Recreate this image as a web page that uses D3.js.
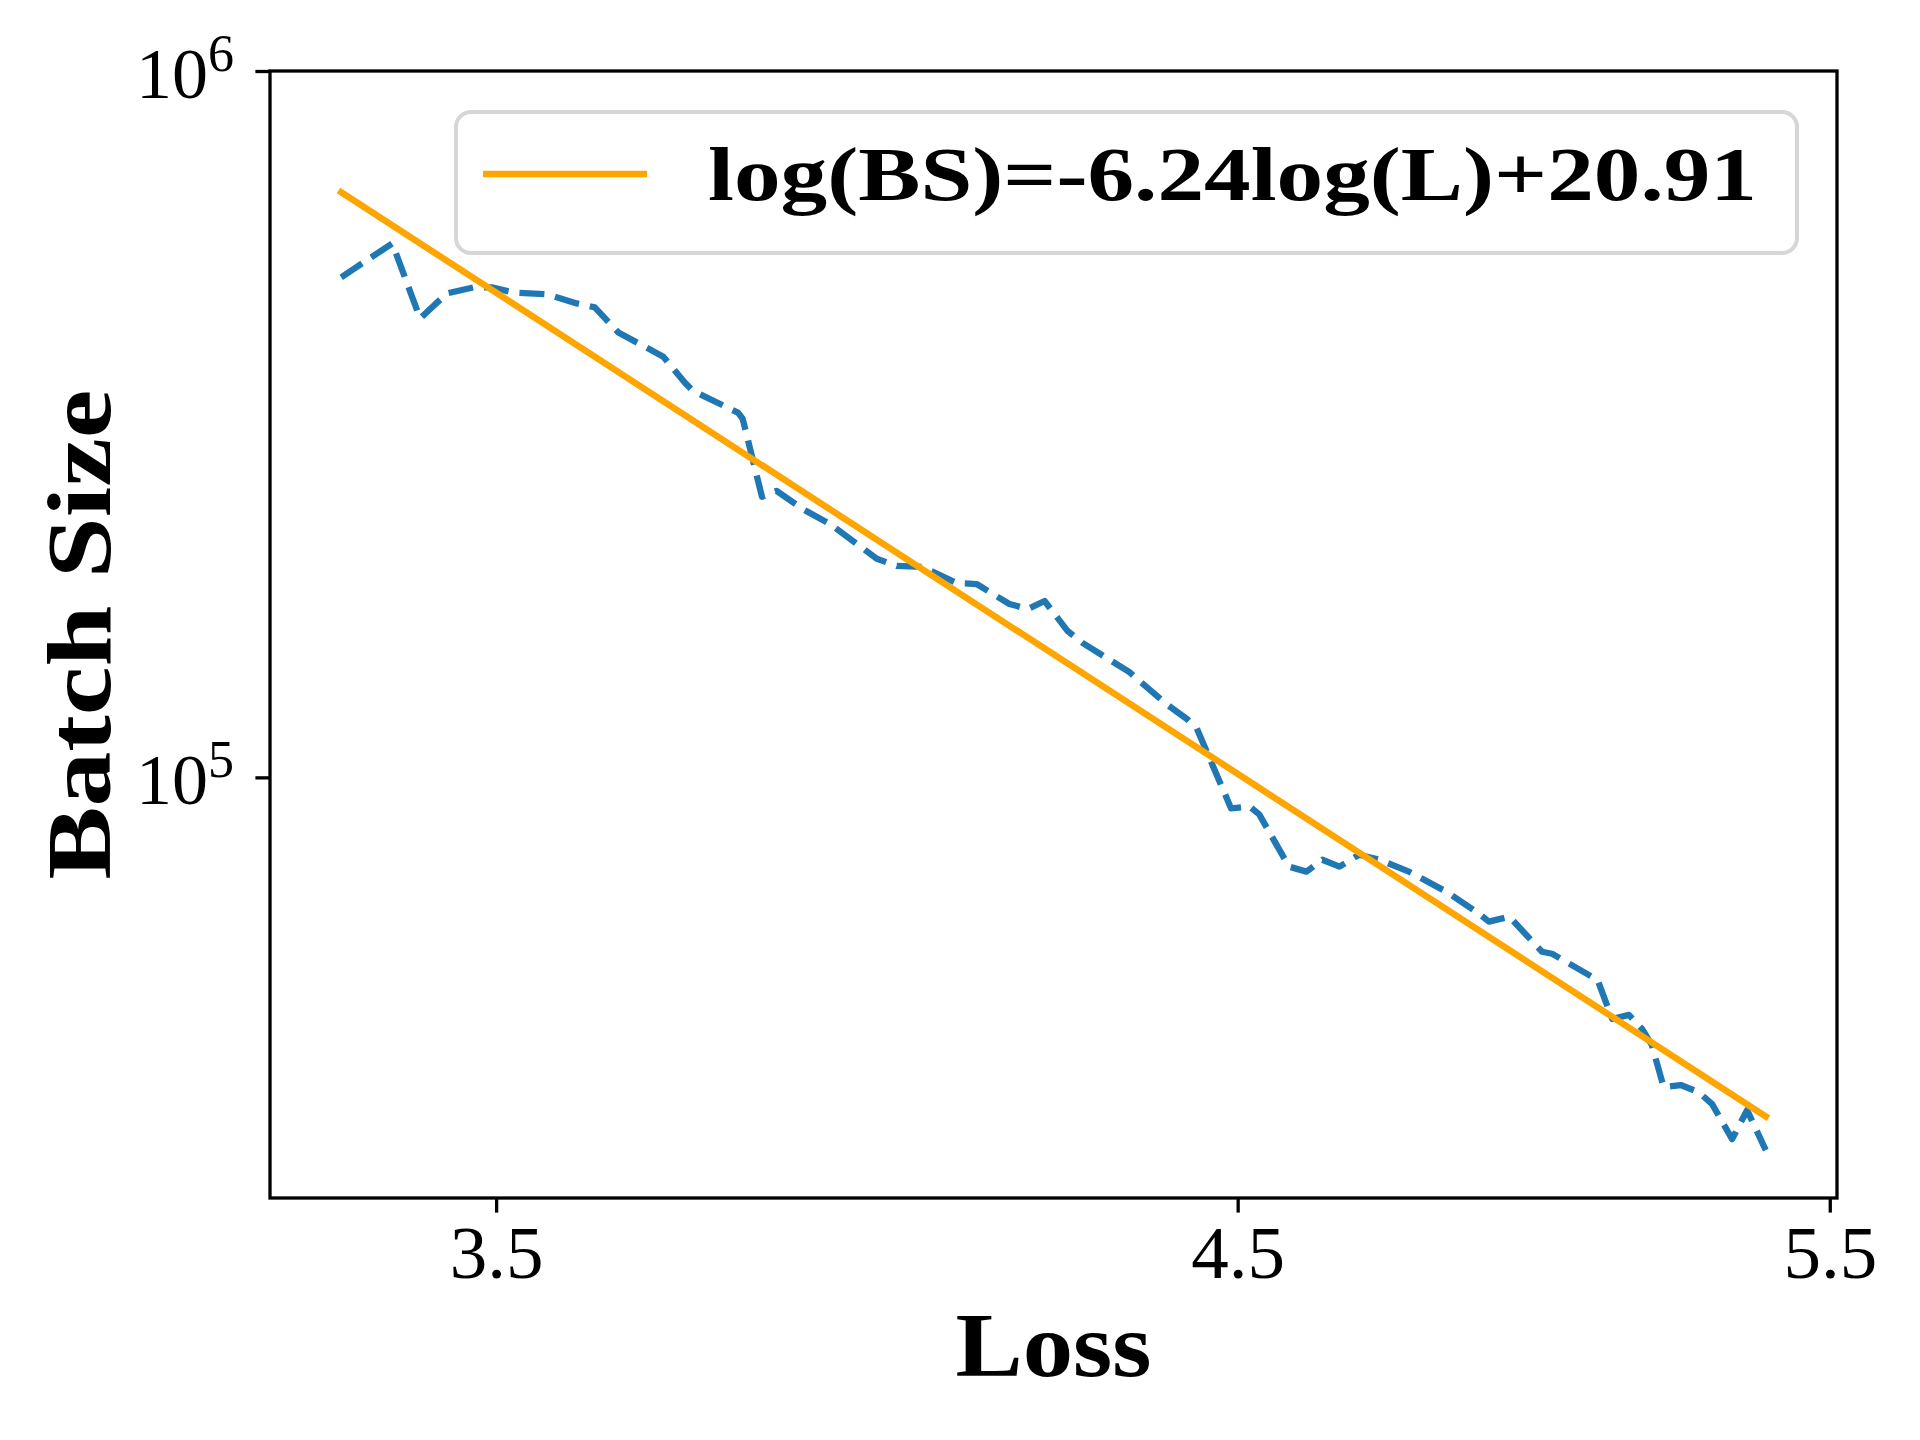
<!DOCTYPE html>
<html>
<head>
<meta charset="utf-8">
<script src="https://cdn.jsdelivr.net/npm/d3@7"></script>
<style>
  body { margin: 0; background: #fff; }
  svg { display: block; }
  text { font-family: "Liberation Serif", "DejaVu Serif", serif; fill: #000; }
</style>
</head>
<body>
<div id="chart"></div>
<script>
var lossValues = [
  3.321, 3.379, 3.411, 3.442, 3.473, 3.495, 3.520, 3.561, 3.597, 3.619,
  3.648, 3.704, 3.731, 3.741, 3.799, 3.805, 3.830, 3.849, 3.883, 3.919,
  3.982, 4.009, 4.044, 4.091, 4.119, 4.165, 4.191, 4.215, 4.248, 4.270,
  4.338, 4.348, 4.393, 4.424, 4.438, 4.490, 4.518, 4.533, 4.579, 4.606,
  4.631, 4.658, 4.689, 4.721, 4.769, 4.829, 4.879, 4.900, 4.934, 4.989,
  5.006, 5.074, 5.083, 5.109, 5.138, 5.161, 5.178, 5.199, 5.229, 5.261,
  5.285, 5.321, 5.348, 5.382
];
var batchSizes = [
  510400, 570200, 446300, 484300, 493900, 493900, 485900, 482800, 468800, 462700,
  426400, 394100, 362200, 352800, 328300, 321900, 249600, 254500, 239900, 228500,
  203900, 199200, 198600, 188400, 187800, 176000, 173100, 177700, 161100, 154900,
  140900, 138200, 126900, 120800, 117400, 90380, 90960, 88630, 74750, 73540,
  76460, 74750, 77720, 76460, 73540, 68940, 64550, 62480, 63510, 56640,
  56270, 52210, 51880, 45500, 46100, 44060, 41810, 36440, 36680, 35850,
  34470, 30750, 33800, 29670
];

// fitted power law, natural logs
var fitSlope = -6.24;
var fitIntercept = 20.91;
var legendLabel = "log(BS)=-6.24log(L)+20.91";

var xTickValues = [3.5, 4.5, 5.5];
var xTickLabels = ["3.5", "4.5", "5.5"];
var yTickValues = [1e5, 1e6];
var yTickExponents = ["5", "6"];

var width = 1920, height = 1440;
var margin = {top: 71, right: 83, bottom: 242, left: 270};
var innerW = width - margin.left - margin.right;
var innerH = height - margin.top - margin.bottom;

var lossMin = d3.min(lossValues), lossMax = d3.max(lossValues);
var fitData = [lossMin, lossMax].map(function (l) {
  return [l, Math.exp(fitIntercept + fitSlope * Math.log(l))];
});

// matplotlib-like 5% margins in log space
var lx0 = Math.log(lossMin), lx1 = Math.log(lossMax);
var xpad = 0.05 * (lx1 - lx0);
var yLo = Math.log10(Math.min(d3.min(batchSizes), fitData[1][1]));
var yHi = Math.log10(Math.max(d3.max(batchSizes), fitData[0][1]));
var ypad = 0.05 * (yHi - yLo);

var x = d3.scaleLog()
    .domain([Math.exp(lx0 - xpad), Math.exp(lx1 + xpad)])
    .range([0, innerW]);

var y = d3.scaleLog()
    .domain([Math.pow(10, yLo - ypad), 1e6])
    .range([innerH, 0]);

var svg = d3.select("#chart").append("svg")
    .attr("width", width)
    .attr("height", height);

var g = svg.append("g")
    .attr("transform", "translate(" + margin.left + "," + margin.top + ")");

var line = d3.line()
    .x(function (d) { return x(d[0]); })
    .y(function (d) { return y(d[1]); });

var points = lossValues.map(function (l, i) { return [l, batchSizes[i]]; });

g.append("path")
    .datum(points)
    .attr("d", line)
    .attr("fill", "none")
    .attr("stroke", "#1f77b4")
    .attr("stroke-width", 6.3)
    .attr("stroke-dasharray", "25,11")
    .attr("stroke-linejoin", "round");

g.append("path")
    .datum(fitData)
    .attr("d", line)
    .attr("fill", "none")
    .attr("stroke", "#ffa500")
    .attr("stroke-width", 6.5)
    .attr("stroke-linecap", "square");

// axes
var tickLen = 14.6;

var xaxis = g.append("g")
    .attr("transform", "translate(0," + innerH + ")")
    .call(d3.axisBottom(x).tickValues(xTickValues).tickSize(tickLen).tickFormat(""));

var yaxis = g.append("g")
    .call(d3.axisLeft(y).tickValues(yTickValues).tickSize(tickLen).tickFormat(""));

[xaxis, yaxis].forEach(function (a) {
  a.select(".domain").remove();
  a.selectAll(".tick line").attr("stroke", "#000").attr("stroke-width", 3.3);
});

xaxis.selectAll(".tick").append("text")
    .attr("y", 1278 - margin.top - innerH)
    .attr("text-anchor", "middle")
    .style("font-size", "75px")
    .text(function (d, i) { return xTickLabels[i]; });

var ylab = yaxis.selectAll(".tick").append("text")
    .attr("x", 234 - margin.left)
    .attr("y", 26)
    .attr("text-anchor", "end")
    .style("font-size", "72px");
ylab.append("tspan").text("10");
ylab.append("tspan")
    .attr("dy", -27)
    .style("font-size", "52px")
    .text(function (d, i) { return yTickExponents[i]; });

// frame
g.append("rect")
    .attr("width", innerW)
    .attr("height", innerH)
    .attr("fill", "none")
    .attr("stroke", "#000")
    .attr("stroke-width", 3.3);

// axis labels
svg.append("text")
    .attr("x", margin.left + innerW / 2)
    .attr("y", 1376)
    .attr("text-anchor", "middle")
    .attr("textLength", 196)
    .attr("lengthAdjust", "spacingAndGlyphs")
    .style("font-size", "92px")
    .style("font-weight", "bold")
    .text("Loss");

svg.append("text")
    .attr("transform", "translate(110," + (margin.top + innerH / 2) + ") rotate(-90)")
    .attr("text-anchor", "middle")
    .attr("textLength", 490)
    .attr("lengthAdjust", "spacingAndGlyphs")
    .style("font-size", "92px")
    .style("font-weight", "bold")
    .text("Batch Size");

// legend
var legend = svg.append("g").attr("class", "legend");

legend.append("rect")
    .attr("x", 456)
    .attr("y", 112)
    .attr("width", 1341)
    .attr("height", 141)
    .attr("rx", 15)
    .attr("fill", "#fff")
    .attr("fill-opacity", 0.8)
    .attr("stroke", "#d6d6d6")
    .attr("stroke-width", 4);

legend.append("line")
    .attr("x1", 483).attr("x2", 647)
    .attr("y1", 174).attr("y2", 174)
    .attr("stroke", "#ffa500")
    .attr("stroke-width", 6.5);

legend.append("text")
    .attr("x", 708)
    .attr("y", 200)
    .attr("textLength", 1049)
    .attr("lengthAdjust", "spacingAndGlyphs")
    .style("font-size", "76px")
    .style("font-weight", "bold")
    .text(legendLabel);
</script>
</body>
</html>
